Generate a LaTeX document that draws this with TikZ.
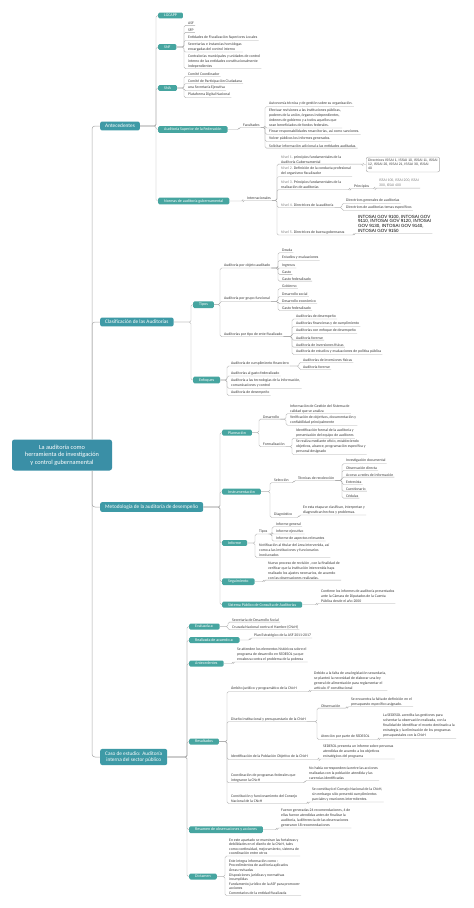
\documentclass[tikz,border=0pt]{standalone}
\usepackage{fontspec}
\setmainfont{Carlito}
\newfontfamily\arialfont{Liberation Sans}
\usetikzlibrary{calc}

\definecolor{maproot}{HTML}{3A8FA6}
\definecolor{mapmain}{HTML}{3E9AA6}
\definecolor{mapteal}{HTML}{46A5A0}
\definecolor{mapline}{HTML}{A8A8A8}
\definecolor{maptext}{HTML}{3A3A3A}

\begin{document}
\begin{tikzpicture}[
    x=1pt, y=-1pt,
    rootbox/.style={fill=maproot, text=white, rounded corners=2.5pt, align=center,
        font=\fontsize{6.3}{7.4}\selectfont, minimum width=100pt, minimum height=31pt, inner sep=3pt},
    mainbox/.style={fill=mapmain, text=white, rounded corners=2pt, anchor=west,
        font=\fontsize{5.3}{6.3}\selectfont, inner xsep=5pt, inner ysep=2.6pt},
    subbox/.style={fill=mapteal, text=white, rounded corners=1.3pt, anchor=west,
        font=\fontsize{4}{4.8}\selectfont, inner xsep=6pt, inner ysep=1.6pt},
    leaf/.style={anchor=west, align=left, text=maptext,
        font=\fontsize{3.8}{5}\selectfont, inner xsep=1pt, inner ysep=0.9pt},
    dirbox/.style={draw=mapline, rounded corners=2pt, anchor=west, align=left, text=maptext,
        font=\arialfont\fontsize{3.4}{4.2}\selectfont, inner sep=2pt},
    govleaf/.style={leaf, text=black, font=\arialfont\fontsize{4.5}{4.7}\selectfont},
    conn/.style={draw=mapline, line width=0.35pt, rounded corners=1.5pt},
    trunk/.style={draw=mapline, line width=0.5pt, rounded corners=3pt}
]
    \fill[white] (0,0) rectangle (474,908);
    \useasboundingbox (0,0) rectangle (474,908);

    % ---- root and main branches ----
    \node[rootbox] (root) at (62,455) {La auditoría como\\herramienta de investigación\\y control gubernamental};
    \node[mainbox] (ante) at (100,126) {Antecedentes};
    \node[mainbox] (clas) at (100,322) {Clasificación de las Auditorías};
    \node[mainbox] (met)  at (100,507) {Metodología de la auditoría de desempeño};
    \node[mainbox, align=center] (caso) at (100,757) {Caso de estudio: Auditoría\\interna del sector público};
    \coordinate (rtop) at ([xshift=30pt]root.north);
    \coordinate (rbot) at ([xshift=30pt]root.south);
    \draw[trunk] (rtop) |- (ante.west);
    \draw[trunk] (rtop) |- (clas.west);
    \draw[trunk] (rbot) |- (met.west);
    \draw[trunk] (rbot) |- (caso.west);

    % ================= Antecedentes =================
    \foreach \n/\y/\txt in {lg/15.5/LGCAPP, snf/47/SNF, sna/88/SNA,
        asf/129.5/Auditoría Superior de la Federación, nag/201/Normas de auditoría gubernamental} {
        \node[subbox] (\n) at (158,\y) {\txt};
        \draw[conn] (ante.east) -| ([xshift=-2pt]\n.west) -- (\n.west);
    }
    \foreach \n/\y/\txt in {snf1/23/ASF, snf2/30/SFP,
        snf3/37.7/Entidades de Fiscalización Superiores Locales,
        snf4/46.8/{Secretarías e instancias homólogas\\encargadas del control interno},
        snf5/61/{Contralorías municipales y unidades de control\\interno de las entidades constitucionalmente\\independientes}} {
        \node[leaf] (\n) at (187,\y) {\txt};
        \draw[conn] (snf.east) -| ([xshift=-3pt]\n.south west) -- (\n.south east);
    }
    \foreach \n/\y/\txt in {sna1/74/Comité Coordinador, sna2/81/Comité de Participación Ciudadana,
        sna3/88/una Secretaría Ejecutiva, sna4/95/Plataforma Digital Nacional} {
        \node[leaf] (\n) at (187,\y) {\txt};
        \draw[conn] (sna.east) -| ([xshift=-3pt]\n.south west) -- (\n.south east);
    }
    \node[leaf] (fac) at (242,125) {Facultades};
    \draw[conn] (asf.east) -| ([xshift=-3pt]fac.south west) -- (fac.south east);
    \foreach \n/\y/\txt in {fac1/104/Autonomía técnica y de gestión sobre su organización.,
        fac2/118/{Efectuar revisiones a las instituciones públicas,\\poderes de la unión, órganos independientes,\\órdenes de gobierno y a todos aquellos que\\sean beneficiados de fondos federales.},
        fac3/131.5/{Fincar responsabilidades resarcitorias, así como sanciones.},
        fac4/138.7/Volver públicos los informes generados.,
        fac5/145.7/Solicitar información adicional a las entidades auditadas.} {
        \node[leaf] (\n) at (268,\y) {\txt};
        \draw[conn] (fac.south east) -| ([xshift=-3pt]\n.south west) -- (\n.south east);
    }
    \node[leaf] (intl) at (246,198) {Internacionales};
    \draw[conn] (nag.east) -| ([xshift=-3pt]intl.south west) -- (intl.south east);
    \foreach \n/\y/\txt in {niv1/159.2/{\textcolor{gray}{Nivel 1.} principios fundamentales de la\\Auditoría Gubernamental},
        niv2/171.5/{\textcolor{gray}{Nivel 2.} Definición de la conducta profesional\\del organismo fiscalizador},
        niv3/184.8/{\textcolor{gray}{Nivel 3.} Principios fundamentales de la\\realización de auditorías},
        niv4/205/{\textcolor{gray}{Nivel 4.} Directrices de la auditoría},
        niv5/232.3/{\textcolor{gray}{Nivel 5.} Directrices de buena gobernanza}} {
        \node[leaf] (\n) at (280,\y) {\txt};
        \draw[conn] (intl.south east) -| ([xshift=-3pt]\n.south west) -- (\n.south east);
    }
    \node[dirbox] (issai) at (366,164.5) {Directrices ISSAI 1, ISSAI 10, ISSAI 11, ISSAI\\12, ISSAI 20, ISSAI 21, ISSAI 30, ISSAI\\40};
    \draw[conn] (niv1.south east) -| ([xshift=-3pt]issai.west) -- (issai.west);
    \node[leaf] (prin) at (353,186) {Principios};
    \draw[conn] (niv3.south east) -| ([xshift=-3pt]prin.south west) -- (prin.south east);
    \node[leaf, text=gray] (prin1) at (378,183) {ISSAI 100, ISSAI 200, ISSAI\\300, ISSAI 400};
    \draw[conn] (prin.south east) -| ([xshift=-3pt]prin1.south west) -- (prin1.south east);
    \foreach \n/\y/\txt in {dir1/200.7/Directrices generales de auditorías,
        dir2/207.7/Directrices de auditorías temas específicos} {
        \node[leaf] (\n) at (345,\y) {\txt};
        \draw[conn] (niv4.south east) -| ([xshift=-3pt]\n.south west) -- (\n.south east);
    }
    \node[govleaf] (gov) at (357,223.7) {INTOSAI GOV 9100, INTOSAI GOV\\9110, INTOSAI GOV 9120, INTOSAI\\GOV 9130, INTOSAI GOV 9140,\\INTOSAI GOV 9150};
    \draw[conn] (niv5.south east) -| ([xshift=-3pt]gov.south west) -- (gov.south east);

    % ================= Clasificación =================
    \foreach \n/\y/\txt in {tip/304.7/Tipos, enf/380/Enfoques} {
        \node[subbox] (\n) at (193,\y) {\txt};
        \draw[conn] (clas.east) -| ([xshift=-2pt]\n.west) -- (\n.west);
    }
    \foreach \n/\y/\txt in {tip1/265.3/Auditoría por objeto auditado, tip2/298.7/Auditoría por grupo funcional,
        tip3/334/Auditorías por tipo de ente fiscalizado} {
        \node[leaf] (\n) at (223,\y) {\txt};
        \draw[conn] (tip.east) -| ([xshift=-3pt]\n.south west) -- (\n.south east);
    }
    \foreach \n/\y/\txt in {obj1/250.3/Deuda, obj2/257.7/Estudios y evaluaciones, obj3/265.3/Ingresos,
        obj4/272/Gasto, obj5/278.7/Gasto federalizado} {
        \node[leaf] (\n) at (281,\y) {\txt};
        \draw[conn] (tip1.south east) -| ([xshift=-3pt]\n.south west) -- (\n.south east);
    }
    \foreach \n/\y/\txt in {fun1/286.3/Gobierno, fun2/294/Desarrollo social, fun3/301.3/Desarrollo económico,
        fun4/308/Gasto federalizado} {
        \node[leaf] (\n) at (281,\y) {\txt};
        \draw[conn] (tip2.south east) -| ([xshift=-3pt]\n.south west) -- (\n.south east);
    }
    \foreach \n/\y/\txt in {ent1/316.3/Auditorías de desempeño, ent2/323.7/Auditorías financieras y de cumplimiento,
        ent3/330.7/Auditorías con enfoque de desempeño, ent4/337.7/Auditoría forense,
        ent5/344.7/Auditoría de inversiones físicas,
        ent6/351.7/Auditoría de estudios y evaluaciones de política pública} {
        \node[leaf] (\n) at (295,\y) {\txt};
        \draw[conn] (tip3.south east) -| ([xshift=-3pt]\n.south west) -- (\n.south east);
    }
    \foreach \n/\y/\txt in {enf1/363.3/Auditoría de cumplimiento financiero, enf2/373.3/Auditorías al gasto federalizado,
        enf3/383/{Auditoría a las tecnologías de la información,\\comunicaciones y control},
        enf4/392.7/Auditoría de desempeño} {
        \node[leaf] (\n) at (230,\y) {\txt};
        \draw[conn] (enf.east) -| ([xshift=-3pt]\n.south west) -- (\n.south east);
    }
    \foreach \n/\y/\txt in {cum1/360/Auditorías de inversiones físicas, cum2/367/Auditoría forense} {
        \node[leaf] (\n) at (302,\y) {\txt};
        \draw[conn] (enf1.south east) -| ([xshift=-3pt]\n.south west) -- (\n.south east);
    }

    % ================= Metodología =================
    \foreach \n/\y/\txt in {pla/432.7/Planeación, ins/491.7/Instrumentación, inf/543/Informe,
        seg/581.7/Seguimiento, spc/604.7/Sistema Público de Consulta de Auditorías} {
        \node[subbox] (\n) at (222,\y) {\txt};
        \draw[conn] (met.east) -| ([xshift=-2pt]\n.west) -- (\n.west);
    }
    \foreach \n/\y/\txt in {des/416.7/Desarrollo, frm/444.3/Formalización} {
        \node[leaf] (\n) at (262,\y) {\txt};
        \draw[conn] (pla.east) -| ([xshift=-3pt]\n.south west) -- (\n.south east);
    }
    \foreach \n/\y/\txt in {des1/408.5/{Información de Gestión del Sistema de\\calidad que se analiza},
        des2/420/{Verificación de objetivos, documentación y\\confiabilidad principalmente}} {
        \node[leaf] (\n) at (289,\y) {\txt};
        \draw[conn] (des.south east) -| ([xshift=-3pt]\n.south west) -- (\n.south east);
    }
    \foreach \n/\y/\txt in {frm1/433/{Identificación formal de la auditoría y\\presentación del equipo de auditores},
        frm2/447/{Se realiza mediante oficio, estableciendo\\objetivos, alcance, programación específica y\\personal designado}} {
        \node[leaf] (\n) at (295,\y) {\txt};
        \draw[conn] (frm.south east) -| ([xshift=-3pt]\n.south west) -- (\n.south east);
    }
    \foreach \n/\y/\txt in {sel/480.3/Selección, dia/514.7/Diagnóstico} {
        \node[leaf] (\n) at (273,\y) {\txt};
        \draw[conn] (ins.east) -| ([xshift=-3pt]\n.south west) -- (\n.south east);
    }
    \node[leaf] (tec) at (297,478) {Técnicas de recolección};
    \draw[conn] (sel.south east) -| ([xshift=-3pt]tec.south west) -- (tec.south east);
    \foreach \n/\y/\txt in {tec1/461/Investigación documental, tec2/468/Observación directa,
        tec3/474.7/Acceso a redes de información, tec4/482/Entrevista, tec5/488.7/Cuestionario,
        tec6/495.7/Cédulas} {
        \node[leaf] (\n) at (345,\y) {\txt};
        \draw[conn] (tec.south east) -| ([xshift=-3pt]\n.south west) -- (\n.south east);
    }
    \node[leaf] (dia1) at (302,509.8) {En esta etapa se clasifican, interpretan y\\diagnostican hechos y problemas.};
    \draw[conn] (dia.south east) -| ([xshift=-3pt]dia1.south west) -- (dia1.south east);
    \foreach \n/\y/\txt in {itp/531.3/Tipos,
        not/550/{Notificación al titular del área intervenida, así\\como a las instituciones y funcionarios\\involucrados}} {
        \node[leaf] (\n) at (258,\y) {\txt};
        \draw[conn] (inf.east) -| ([xshift=-3pt]\n.south west) -- (\n.south east);
    }
    \foreach \n/\y/\txt in {itp1/524/Informe general, itp2/531.3/Informe ejecutivo,
        itp3/538.3/Informe de aspectos relevantes} {
        \node[leaf] (\n) at (275,\y) {\txt};
        \draw[conn] (itp.south east) -| ([xshift=-3pt]\n.south west) -- (\n.south east);
    }
    \node[leaf] (seg1) at (267,570.2) {Nuevo proceso de revisión , con la finalidad de\\verificar que la institución intervenida haya\\realizado los ajustes necesarios, de acuerdo\\con las observaciones realizadas.};
    \draw[conn] (seg.east) -| ([xshift=-3pt]seg1.south west) -- (seg1.south east);
    \node[leaf] (spc1) at (320,596) {Contiene los informes de auditoría presentados\\ante la Cámara de Diputados de la Cuenta\\Pública desde el año 2000};
    \draw[conn] (spc.east) -| ([xshift=-3pt]spc1.south west) -- (spc1.south east);

    % ================= Caso de estudio =================
    \foreach \n/\y/\txt in {eva/626.5/Evaluada a:, rea/640/Realizada de acuerdo a:, ant/663.5/Antecedentes,
        resu/741.5/Resultados, rsm/829.7/Resumen de observaciones y acciones, dic/876.5/Dictamen} {
        \node[subbox] (\n) at (189,\y) {\txt};
        \draw[conn] (caso.east) -| ([xshift=-2pt]\n.west) -- (\n.west);
    }
    \foreach \n/\y/\txt in {eva1/619.7/Secretaría de Desarrollo Social,
        eva2/627/Cruzada Nacional contra el Hambre (CNcH)} {
        \node[leaf] (\n) at (231,\y) {\txt};
        \draw[conn] (eva.east) -| ([xshift=-3pt]\n.south west) -- (\n.south east);
    }
    \node[leaf] (rea1) at (253,635.3) {Plan Estratégico de la ASF 2011-2017};
    \draw[conn] (rea.east) -| ([xshift=-3pt]rea1.south west) -- (rea1.south east);
    \node[leaf] (ant1) at (236,654.3) {Se atienden los elementos históricos sobre el\\programa de desarrollo en SEDESOL ya que\\encabeza contra el problema de la pobreza};
    \draw[conn] (ant.east) -| ([xshift=-3pt]ant1.south west) -- (ant1.south east);
    \foreach \n/\y/\txt in {r1/688.7/Ámbito jurídico y programático de la CNcH,
        r2/719/Diseño institucional y presupuestario de la CNcH,
        r3/756.7/Identificación de la Población Objetivo de la CNcH,
        r4/777.5/{Coordinación de programas federales que\\integraron la CNcH},
        r5/798.5/{Constitución y funcionamiento del Consejo\\Nacional de la CNcH}} {
        \node[leaf] (\n) at (230,\y) {\txt};
        \draw[conn] (resu.east) -| ([xshift=-3pt]\n.south west) -- (\n.south east);
    }
    \node[leaf] (r1a) at (313,680.5) {Debido a la falta de una legislación secundaria,\\se planteó la necesidad de elaborar una ley\\general de alimentación para reglamentar el\\artículo 4° constitucional};
    \draw[conn] (r1.south east) -| ([xshift=-3pt]r1a.south west) -- (r1a.south east);
    \foreach \n/\y/\txt in {obs/705.7/Observación, ate/736.7/Atención por parte de SEDESOL} {
        \node[leaf] (\n) at (320,\y) {\txt};
        \draw[conn] (r2.south east) -| ([xshift=-3pt]\n.south west) -- (\n.south east);
    }
    \node[leaf] (obs1) at (350,701.5) {Se encuentra la falta de definición en el\\presupuesto específico asignado.};
    \draw[conn] (obs.south east) -| ([xshift=-3pt]obs1.south west) -- (obs1.south east);
    \node[leaf] (ate1) at (382,725.7) {La SEDESOL acredita las gestiones para\\solventar la observación realizada, con la\\finalidad de identificar el monto destinado a la\\estrategia y la eliminación de los programas\\presupuestales con la CNcH};
    \draw[conn] (ate.south east) -| ([xshift=-3pt]ate1.south west) -- (ate1.south east);
    \node[leaf] (r3a) at (322,751.3) {SEDESOL presenta un informe sobre personas\\atendidas de acuerdo a los objetivos\\estratégicos del programa};
    \draw[conn] (r3.south east) -| ([xshift=-3pt]r3a.south west) -- (r3a.south east);
    \node[leaf] (r4a) at (308,773) {No había correspondencia entre las acciones\\realizadas con la población atendida y las\\carencias identificadas};
    \draw[conn] (r4.south east) -| ([xshift=-3pt]r4a.south west) -- (r4a.south east);
    \node[leaf] (r5a) at (311,794.3) {Se constituyó el Consejo Nacional de la CNcH,\\sin embargo sólo presentó cumplimientos\\parciales y reuniones intermitentes.};
    \draw[conn] (r5.south east) -| ([xshift=-3pt]r5a.south west) -- (r5a.south east);
    \node[leaf] (rsm1) at (280,817.8) {Fueron generadas 24 recomendaciones, 4 de\\ellas fueron atendidas antes de finalizar la\\auditoría, la diferencia de las observaciones\\generaron 18 recomendaciones};
    \draw[conn] (rsm.east) -| ([xshift=-3pt]rsm1.south west) -- (rsm1.south east);
    \foreach \n/\y/\txt in {dic1/846.7/{En este apartado se muestran las fortalezas y\\debilidades en el diseño de la CNcH, tales\\como continuidad, mejoramiento, sistema de\\coordinación entre otros},
        dic2/877/{Este integra información como :\\Procedimientos de auditoría aplicados\\Áreas revisadas\\Disposiciones jurídicas y normativas\\incumplidas\\Fundamento jurídico de la ASF para promover\\acciones\\Comentarios de la entidad fiscalizada}} {
        \node[leaf, font=\fontsize{3.8}{4.6}\selectfont] (\n) at (228,\y) {\txt};
        \draw[conn] (dic.east) -| ([xshift=-3pt]\n.south west) -- (\n.south east);
    }
\end{tikzpicture}
\end{document}
